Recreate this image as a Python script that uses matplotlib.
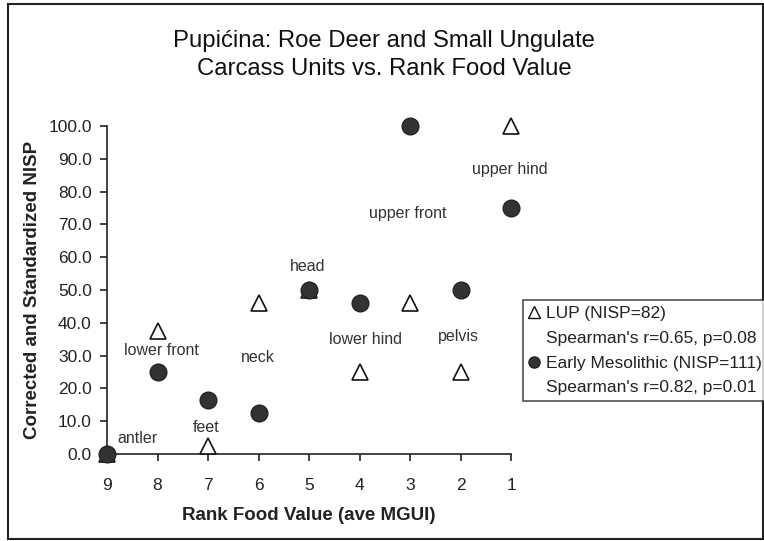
import matplotlib
matplotlib.use("Agg")
import matplotlib.pyplot as plt
from matplotlib.lines import Line2D
from matplotlib.patches import Rectangle

plt.rcParams["font.family"] = ["Liberation Sans", "DejaVu Sans"]

# rank food value (x) and corrected NISP (y)
ranks = [9, 8, 7, 6, 5, 4, 3, 2, 1]
lup_nisp = [0.0, 37.5, 2.5, 46.0, 50.0, 25.0, 46.0, 25.0, 100.0]
meso_nisp = [0.0, 25.0, 16.5, 12.5, 50.0, 46.0, 100.0, 50.0, 75.0]

# carcass unit labels and where they sit
unit_names = ["antler", "lower front", "feet", "neck", "head",
              "lower hind", "upper front", "upper hind", "pelvis"]
unit_x = [8.4, 7.92, 7.03, 6.02, 5.03, 3.89, 3.04, 1.02, 2.04]
unit_y = [4.6, 31.5, 8.1, 29.5, 57.3, 35.0, 73.2, 86.6, 35.7]

legend_labels = ["LUP (NISP=82)", "Spearman's r=0.65, p=0.08",
                 "Early Mesolithic (NISP=111)", "Spearman's r=0.82, p=0.01"]

text_col = "#222222"

fig = plt.figure(figsize=(7.64, 5.41), dpi=100)
ax = fig.add_axes([107 / 764, 1 - 454 / 541, 404 / 764, 328 / 541])

ax.plot(ranks, lup_nisp, linestyle="none", marker="^", markersize=12,
        markerfacecolor="white", markeredgecolor="#111111",
        markeredgewidth=1.2, clip_on=False, zorder=3)
ax.plot(ranks, meso_nisp, linestyle="none", marker="o", markersize=12,
        markerfacecolor="#333333", markeredgecolor="#222222",
        clip_on=False, zorder=4)

for name, lx, ly in zip(unit_names, unit_x, unit_y):
    ax.text(lx, ly, name, ha="center", va="center", fontsize=11.5,
            color="#333333")

ax.set_xlim(9, 1)
ax.set_ylim(0, 100)
ax.set_xticks(ranks)
ax.set_yticks(range(0, 101, 10))
ax.set_yticklabels([f"{v:.1f}" for v in range(0, 101, 10)])

ax.spines["top"].set_visible(False)
ax.spines["right"].set_visible(False)
for s in ["left", "bottom"]:
    ax.spines[s].set_color("#222222")
    ax.spines[s].set_linewidth(1.2)
ax.tick_params(axis="both", direction="out", length=5, width=1.2,
               colors="#222222", labelsize=12.5, labelcolor=text_col)
ax.tick_params(axis="y", pad=6)
ax.tick_params(axis="x", pad=12)

ax.set_xlabel("Rank Food Value (ave MGUI)", fontsize=13.5, fontweight="bold",
              color=text_col, labelpad=10)
ax.set_ylabel("Corrected and Standardized NISP", fontsize=13.5,
              fontweight="bold", color=text_col, labelpad=5)

fig.text(384 / 764, 1 - 55 / 541,
         "Pupićina: Roe Deer and Small Ungulate\nCarcass Units vs. Rank Food Value",
         ha="center", va="center", fontsize=17.2, color="#111111",
         linespacing=1.3)

handles = [
    Line2D([], [], linestyle="none", marker="^", markersize=9,
           markerfacecolor="white", markeredgecolor="#111111"),
    Line2D([], [], linestyle="none"),
    Line2D([], [], linestyle="none", marker="o", markersize=8,
           markerfacecolor="#333333", markeredgecolor="#222222"),
    Line2D([], [], linestyle="none"),
]
leg = fig.legend(handles, legend_labels, loc="upper left",
                 bbox_to_anchor=(523 / 764, 1 - 300 / 541),
                 fontsize=12.5, frameon=True, fancybox=False,
                 handlelength=0.6, handletextpad=0.35, borderpad=0.35,
                 labelspacing=0.55, borderaxespad=0)
leg.get_frame().set_edgecolor("#222222")
leg.get_frame().set_linewidth(1.2)
for t in leg.get_texts():
    t.set_color(text_col)

# outer border of the chart area
fig.patches.append(Rectangle((8 / 764, 2 / 541), 755 / 764, 535 / 541,
                             transform=fig.transFigure, fill=False,
                             edgecolor="#222222", linewidth=1.5))

fig.savefig("out.png", dpi=100)
